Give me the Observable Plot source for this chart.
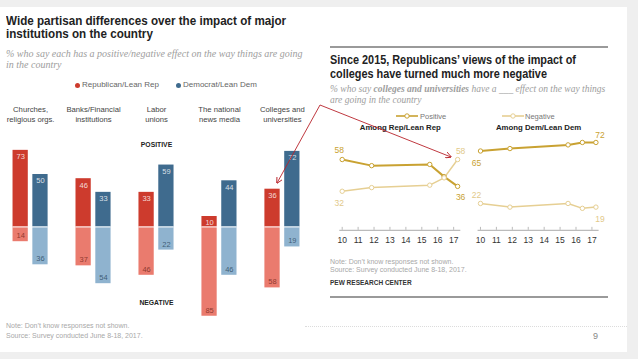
<!DOCTYPE html>
<html>
<head>
<meta charset="utf-8">
<script src="https://cdn.jsdelivr.net/npm/d3@7"></script>
<script src="https://cdn.jsdelivr.net/npm/@observablehq/plot@0.6"></script>
<style>
  body { margin:0; width:638px; height:359px; background:#efefef; position:relative; overflow:hidden; font-family:"Liberation Sans", Arial, sans-serif; }
  .abs { position:absolute; white-space:nowrap; }
  .title { font-weight:bold; color:#222; transform-origin:left top; }
  .sub { font-family:"Liberation Serif", "Times New Roman", serif; font-style:italic; color:#9d9d9d; }
  .note { color:#a8a8a8; font-size:7px; }
  svg { overflow:visible; }
</style>
</head>
<body>
<div class="abs" style="left:0;top:7px;width:627px;height:345px;background:#fff"></div>

<!-- Left chart texts -->
<div class="abs title" style="left:6px;top:15px;font-size:12.4px;line-height:13.4px;transform:scaleX(0.94)">Wide partisan differences over the impact of major<br>institutions on the country</div>
<div class="abs sub" style="left:6px;top:47.5px;font-size:10px;line-height:11.7px">% who say each has a positive/negative effect on the way things are going<br>in the country</div>
<div id="legL" class="abs" style="left:0;top:80px;font-size:8px;line-height:10px;color:#666"></div>
<div id="left" class="abs" style="left:0;top:100px"></div>
<div class="abs note" style="left:6px;top:321px;line-height:9.6px">Note: Don’t know responses not shown.<br>Source: Survey conducted June 8-18, 2017.</div>
<div class="abs" style="left:305px;top:326px;width:322px;height:0;border-top:1px dotted #dcdcdc"></div>

<!-- Right chart texts -->
<div class="abs" style="left:330px;top:46px;width:278px;height:2px;background:#9a9a9a"></div>
<div class="abs title" style="left:330px;top:54px;font-size:12.5px;line-height:13.6px;transform:scaleX(0.87)">Since 2015, Republicans’ views of the impact of<br>colleges have turned much more negative</div>
<div class="abs sub" style="left:330px;top:83.6px;font-size:9.5px;line-height:11.4px">% who say <b>colleges and universities</b> have a ___ effect on the way things<br>are going in the country</div>
<div id="legR" class="abs" style="left:0;top:111px;font-size:7.5px;line-height:10px;color:#777"></div>
<div id="right" class="abs" style="left:325px;top:118px"></div>
<div class="abs note" style="left:330px;top:257.5px;line-height:8.4px">Note: Don’t know responses not shown.<br>Source: Survey conducted June 8-18, 2017.</div>
<div class="abs" style="left:330px;top:279px;font-size:6.5px;font-weight:bold;color:#333">PEW RESEARCH CENTER</div>
<div class="abs" style="left:330px;top:296px;width:278px;height:2px;background:#9a9a9a"></div>
<div class="abs" style="left:593px;top:331px;font-size:9px;color:#888">9</div>

<!-- annotation arrows -->
<svg class="abs" style="left:0;top:0" width="638" height="359">
  <defs>
    <marker id="ah" viewBox="0 0 10 10" refX="9" refY="5" markerWidth="7" markerHeight="7" orient="auto">
      <path d="M0,0 L10,5 L0,10" fill="none" stroke="#b8232a" stroke-width="1.4"/>
    </marker>
  </defs>
  <line x1="320" y1="105" x2="277" y2="183" stroke="#b8232a" stroke-width="0.9" marker-end="url(#ah)"/>
  <line x1="320" y1="105" x2="451" y2="157" stroke="#b8232a" stroke-width="0.9" marker-end="url(#ah)"/>
</svg>

<script>
// ---------- Left chart data ----------
const categories = ["Churches,\nreligious orgs.", "Banks/Financial\ninstitutions", "Labor\nunions", "The national\nnews media", "Colleges and\nuniversities"];
const parties = ["Rep", "Dem"];
const repPositive = [73, 46, 33, 10, 36];
const repNegative = [14, 37, 46, 85, 58];
const demPositive = [50, 33, 59, 44, 72];
const demNegative = [36, 54, 22, 46, 19];
const sideLabels = ["POSITIVE", "NEGATIVE"];

// ---------- Right chart data ----------
const panels = ["rep", "dem"];
const panelTitles = ["Among Rep/Lean Rep", "Among Dem/Lean Dem"];
const years = [10.0, 11.85, 15.5, 16.4, 17.25];
const yearTicks = [10, 11, 12, 13, 14, 15, 16, 17];
const repPositiveTrend = [58, 53, 54, 44, 36];
const repNegativeTrend = [32, 35, 37, 43, 58];
const demPositiveTrend = [65, 67, 70, 72, 72];
const demNegativeTrend = [22, 19, 22, 18, 19];
const seriesNames = ["Positive", "Negative"];

// ---------- styles ----------
const barColors = {Rep: {pos: "#cd3b2d", neg: "#ea7b6e"}, Dem: {pos: "#3f6b8e", neg: "#8fb3cf"}};
const negText = {Rep: "#7d2e25", Dem: "#2f4d66"};
const lineColors = {Positive: "#c9a232", Negative: "#e6cf93"};
const labelColors = {Positive: "#c9a232", Negative: "#e2c98a"};
const font = "Liberation Sans, Arial, sans-serif";

// Left legend
document.getElementById("legL").innerHTML =
  `<span class="abs" style="left:74.5px;top:2.5px;width:5px;height:5px;border-radius:50%;background:${barColors.Rep.pos}"></span>
   <span class="abs" style="left:82px;top:0">Republican/Lean Rep</span>
   <span class="abs" style="left:175.5px;top:2.5px;width:5px;height:5px;border-radius:50%;background:${barColors.Dem.pos}"></span>
   <span class="abs" style="left:183px;top:0">Democrat/Lean Dem</span>`;

// Right legend
const glyph = (c) => `<svg width="22" height="8" style="vertical-align:middle"><line x1="0" y1="4" x2="22" y2="4" stroke="${c}" stroke-width="1.6"/><circle cx="11" cy="4" r="2.2" fill="#fff" stroke="${c}" stroke-width="1"/></svg>`;
document.getElementById("legR").innerHTML =
  `<span class="abs" style="left:396px;top:0">${glyph(lineColors.Positive)}</span><span class="abs" style="left:420px;top:0.5px">${seriesNames[0]}</span>
   <span class="abs" style="left:501.5px;top:0">${glyph(lineColors.Negative)}</span><span class="abs" style="left:525px;top:0.5px">${seriesNames[1]}</span>`;

// ---------- Left plot ----------
const leftData = [];
categories.forEach((c, i) => {
  leftData.push({cat: c, party: "Rep", pos: repPositive[i], neg: repNegative[i]});
  leftData.push({cat: c, party: "Dem", pos: demPositive[i], neg: demNegative[i]});
});

const leftPlot = Plot.plot({
  width: 312, height: 222,
  marginTop: 42.5, marginBottom: 1, marginLeft: 0, marginRight: 0,
  style: {fontFamily: font, background: "transparent", overflow: "visible"},
  fx: {domain: categories, paddingInner: 0.443, paddingOuter: 0.199, round: false, axis: null},
  x: {domain: parties, paddingInner: 0.23, paddingOuter: 0, round: false, axis: null},
  y: {domain: [-90, 80], axis: null},
  marks: [
    Plot.barY(leftData, {fx: "cat", x: "party", y: "pos", fill: d => barColors[d.party].pos}),
    Plot.barY(leftData, {fx: "cat", x: "party", y: d => -d.neg, fill: d => barColors[d.party].neg}),
    Plot.ruleY([0], {stroke: "white", strokeWidth: 1.2, strokeOpacity: 0.85}),
    Plot.text(leftData, {fx: "cat", x: "party", y: "pos", text: d => String(d.pos), dy: 6.5, fill: "white", fillOpacity: 0.8, fontSize: 7.5}),
    Plot.text(leftData, {fx: "cat", x: "party", y: d => -d.neg, text: d => String(d.neg), dy: -6, fill: d => negText[d.party], fillOpacity: 0.85, fontSize: 7.5}),
    Plot.text(categories.map(c => ({cat: c})), {fx: "cat", text: "cat", frameAnchor: "top", lineAnchor: "middle", dy: -29.2, fontSize: 7.7, lineHeight: 1.3, fill: "#444"}),
    Plot.text([{cat: categories[2], y: 78.4, t: sideLabels[0]}, {cat: categories[2], y: -72.6, t: sideLabels[1]}],
      {fx: "cat", y: "y", text: "t", fontSize: 6.8, fontWeight: "bold", fill: "#222"})
  ]
});
document.getElementById("left").appendChild(leftPlot);

// ---------- Right plot ----------
const trend = [];
const trendSeries = {rep: {Positive: repPositiveTrend, Negative: repNegativeTrend}, dem: {Positive: demPositiveTrend, Negative: demNegativeTrend}};
panels.forEach(p => seriesNames.forEach(s => years.forEach((yr, i) => {
  trend.push({panel: p, series: s, year: yr, value: trendSeries[p][s][i], i});
})));

const labelOffsets = {
  "rep-Positive-first": [-3, -9], "rep-Positive-last": [3, 11],
  "rep-Negative-first": [-3, 12], "rep-Negative-last": [3, -8],
  "dem-Positive-first": [-4, 12], "dem-Positive-last": [4, -7],
  "dem-Negative-first": [-4, -8], "dem-Negative-last": [4, 12]
};
const labelMarks = [];
panels.forEach(p => seriesNames.forEach(s => ["first", "last"].forEach(e => {
  const idx = e === "first" ? 0 : years.length - 1;
  const [dx, dy] = labelOffsets[`${p}-${s}-${e}`];
  labelMarks.push(Plot.text(trend.filter(d => d.panel === p && d.series === s && d.i === idx),
    {fx: "panel", x: "year", y: "value", text: d => String(d.value), dx, dy, fill: labelColors[s], fontSize: 8.5}));
})));

const rightPlot = Plot.plot({
  width: 294, height: 130,
  marginTop: 14.2, marginBottom: 18.2, marginLeft: 14.3, marginRight: 20.4,
  style: {fontFamily: font, fontSize: "8.5px", color: "#333", background: "transparent", overflow: "visible"},
  fx: {domain: panels, paddingInner: 0.125, paddingOuter: 0, round: false, axis: null},
  x: {domain: [9.85, 17.45], ticks: yearTicks, tickFormat: d => String(d), tickSize: 0, tickPadding: 6.5, label: null},
  y: {domain: [0, 80], axis: null},
  marks: [
    Plot.ruleY([0], {stroke: "#aaa", strokeWidth: 1}),
    Plot.ruleX(yearTicks, {x: d => d, y1: 0, y2: 2.4, stroke: "#aaa", strokeWidth: 0.8}),
    Plot.line(trend.filter(d => d.series === "Negative"), {fx: "panel", x: "year", y: "value", z: "panel", stroke: lineColors.Negative, strokeWidth: 1.5}),
    Plot.line(trend.filter(d => d.series === "Positive"), {fx: "panel", x: "year", y: "value", z: "panel", stroke: lineColors.Positive, strokeWidth: 2}),
    Plot.dot(trend, {fx: "panel", x: "year", y: "value", r: 2.2, fill: "white", stroke: d => lineColors[d.series], strokeWidth: 1}),
    ...labelMarks,
    Plot.text(panels.map((p, i) => ({panel: p, t: panelTitles[i]})), {fx: "panel", text: "t", frameAnchor: "top", lineAnchor: "middle", dy: -4.9, fontSize: 7.8, fontWeight: "bold", fill: "#222"})
  ]
});
document.getElementById("right").appendChild(rightPlot);
</script>
</body>
</html>
